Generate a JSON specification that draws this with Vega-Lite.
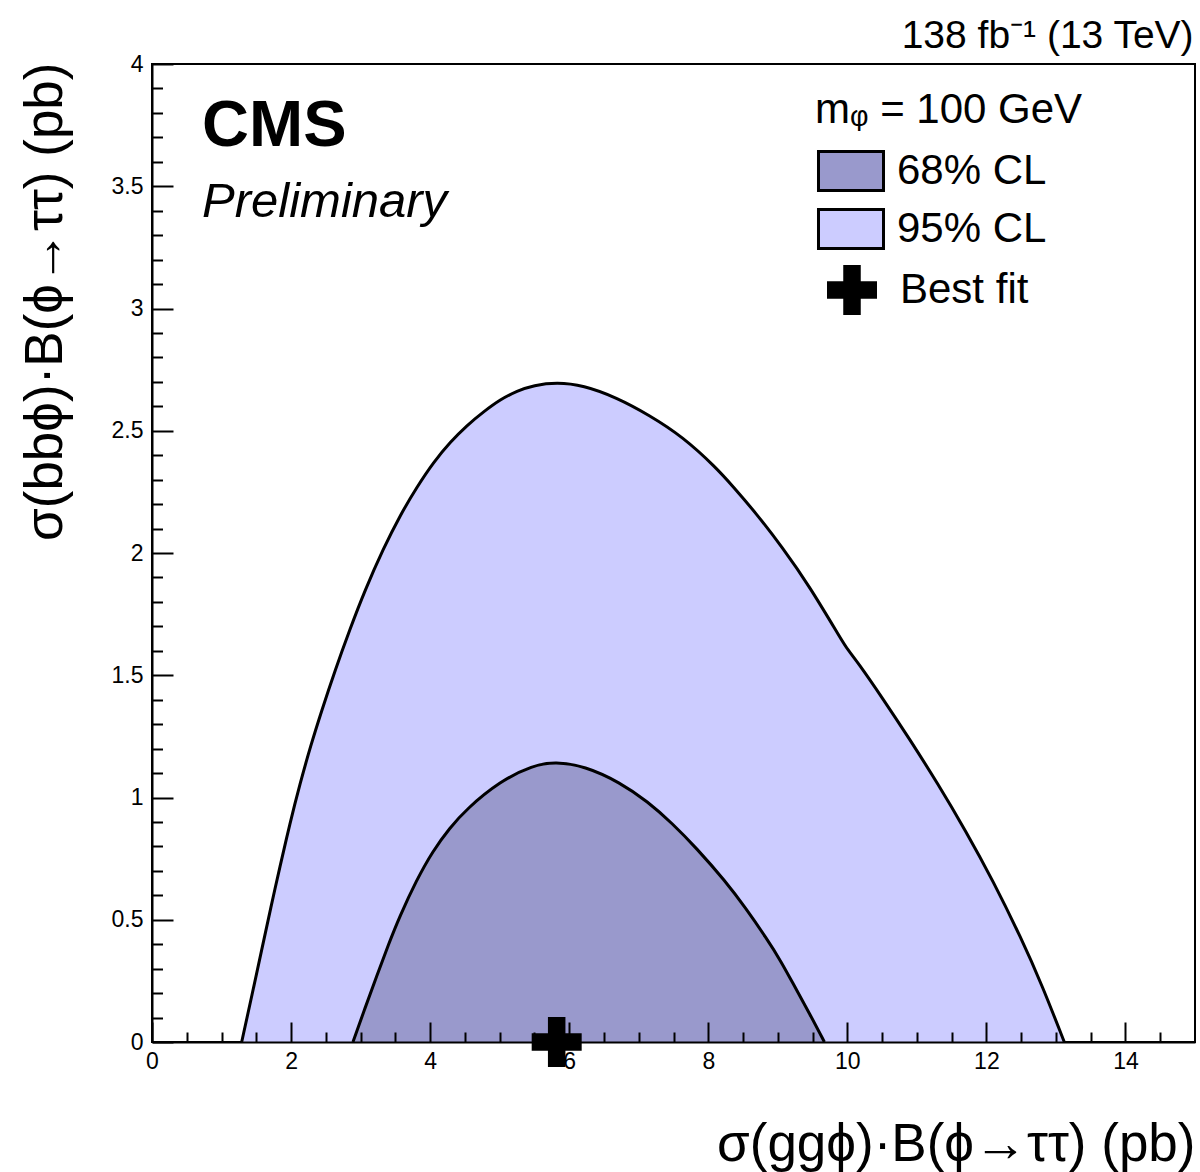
{
  "$schema": "https://vega.github.io/schema/vega-lite/v6.json",
  "width": 1043,
  "height": 978,
  "autosize": {"type": "none"},
  "padding": {"left": 152, "top": 64, "right": 5, "bottom": 130},
  "background": "white",
  "config": {
    "view": {"stroke": "black", "strokeWidth": 2},
    "font": "Liberation Sans",
    "axis": {"labelFont": "Liberation Sans", "titleFont": "Liberation Sans", "labelColor": "black", "titleColor": "black", "grid": false, "domainColor": "black", "tickColor": "black", "titleFontWeight": "normal", "labelFlush": false, "labelOverlap": false}
  },
  "datasets": {
    "contours": [
      {"cl": "95% CL", "x": 1.29, "y": 0},
      {"cl": "95% CL", "x": 1.44, "y": 0.195},
      {"cl": "95% CL", "x": 1.58, "y": 0.38},
      {"cl": "95% CL", "x": 1.71, "y": 0.552},
      {"cl": "95% CL", "x": 1.84, "y": 0.717},
      {"cl": "95% CL", "x": 1.98, "y": 0.89},
      {"cl": "95% CL", "x": 2.13, "y": 1.058},
      {"cl": "95% CL", "x": 2.28, "y": 1.21},
      {"cl": "95% CL", "x": 2.44, "y": 1.355},
      {"cl": "95% CL", "x": 2.63, "y": 1.518},
      {"cl": "95% CL", "x": 2.85, "y": 1.691},
      {"cl": "95% CL", "x": 3.06, "y": 1.846},
      {"cl": "95% CL", "x": 3.33, "y": 2.02},
      {"cl": "95% CL", "x": 3.57, "y": 2.155},
      {"cl": "95% CL", "x": 3.81, "y": 2.27},
      {"cl": "95% CL", "x": 4.05, "y": 2.372},
      {"cl": "95% CL", "x": 4.29, "y": 2.454},
      {"cl": "95% CL", "x": 4.53, "y": 2.522},
      {"cl": "95% CL", "x": 4.77, "y": 2.578},
      {"cl": "95% CL", "x": 5.01, "y": 2.628},
      {"cl": "95% CL", "x": 5.25, "y": 2.663},
      {"cl": "95% CL", "x": 5.49, "y": 2.686},
      {"cl": "95% CL", "x": 5.82, "y": 2.698},
      {"cl": "95% CL", "x": 6.2, "y": 2.686},
      {"cl": "95% CL", "x": 6.68, "y": 2.636},
      {"cl": "95% CL", "x": 7.15, "y": 2.564},
      {"cl": "95% CL", "x": 7.63, "y": 2.476},
      {"cl": "95% CL", "x": 8.11, "y": 2.35},
      {"cl": "95% CL", "x": 8.35, "y": 2.274},
      {"cl": "95% CL", "x": 8.69, "y": 2.162},
      {"cl": "95% CL", "x": 9.07, "y": 2.021},
      {"cl": "95% CL", "x": 9.45, "y": 1.867},
      {"cl": "95% CL", "x": 9.93, "y": 1.638},
      {"cl": "95% CL", "x": 10.0, "y": 1.607},
      {"cl": "95% CL", "x": 10.145, "y": 1.555},
      {"cl": "95% CL", "x": 10.5, "y": 1.409},
      {"cl": "95% CL", "x": 10.9, "y": 1.237},
      {"cl": "95% CL", "x": 11.3, "y": 1.057},
      {"cl": "95% CL", "x": 11.7, "y": 0.865},
      {"cl": "95% CL", "x": 12.1, "y": 0.657},
      {"cl": "95% CL", "x": 12.5, "y": 0.425},
      {"cl": "95% CL", "x": 12.8, "y": 0.233},
      {"cl": "95% CL", "x": 13.12, "y": 0},
      {"cl": "68% CL", "x": 2.89, "y": 0},
      {"cl": "68% CL", "x": 3.06, "y": 0.136},
      {"cl": "68% CL", "x": 3.23, "y": 0.269},
      {"cl": "68% CL", "x": 3.4, "y": 0.398},
      {"cl": "68% CL", "x": 3.56, "y": 0.512},
      {"cl": "68% CL", "x": 3.8, "y": 0.66},
      {"cl": "68% CL", "x": 4.04, "y": 0.782},
      {"cl": "68% CL", "x": 4.28, "y": 0.875},
      {"cl": "68% CL", "x": 4.52, "y": 0.952},
      {"cl": "68% CL", "x": 5.0, "y": 1.066},
      {"cl": "68% CL", "x": 5.48, "y": 1.132},
      {"cl": "68% CL", "x": 5.8, "y": 1.146},
      {"cl": "68% CL", "x": 6.22, "y": 1.129},
      {"cl": "68% CL", "x": 6.73, "y": 1.062},
      {"cl": "68% CL", "x": 7.13, "y": 0.983},
      {"cl": "68% CL", "x": 7.48, "y": 0.895},
      {"cl": "68% CL", "x": 7.83, "y": 0.793},
      {"cl": "68% CL", "x": 8.24, "y": 0.66},
      {"cl": "68% CL", "x": 8.54, "y": 0.547},
      {"cl": "68% CL", "x": 8.84, "y": 0.423},
      {"cl": "68% CL", "x": 9.04, "y": 0.333},
      {"cl": "68% CL", "x": 9.24, "y": 0.228},
      {"cl": "68% CL", "x": 9.46, "y": 0.115},
      {"cl": "68% CL", "x": 9.67, "y": 0}
    ],
    "bestfit": [{"item": "Best fit", "x": 5.82, "y": 0}]
  },
  "layer": [
    {
      "data": {"name": "contours"},
      "transform": [{"filter": "datum.cl === '95% CL'"}],
      "mark": {"type": "area", "interpolate": "basis", "opacity": 1},
      "encoding": {
        "x": {"field": "x", "type": "quantitative", "scale": {"domain": [0, 15], "nice": false, "zero": false},
          "axis": {"orient": "bottom", "values": [0, 2, 4, 6, 8, 10, 12, 14], "format": "~g", "ticks": false, "domain": false, "labelFontSize": 23, "labelPadding": 8, "title": "σ(ggϕ)·B(ϕ→ττ) (pb)", "titleFontSize": 53, "titleX": 1043, "titleY": 118, "titleAlign": "right", "titleBaseline": "alphabetic", "titleAngle": 0, "zindex": 0}},
        "y": {"field": "y", "type": "quantitative", "stack": null, "scale": {"domain": [0, 4], "nice": false},
          "axis": {"orient": "left", "values": [0, 0.5, 1, 1.5, 2, 2.5, 3, 3.5, 4], "format": "~g", "ticks": false, "domain": false, "labelFontSize": 23, "labelPadding": 9, "title": "σ(bbϕ)·B(ϕ→ττ) (pb)", "titleFontSize": 53, "titleX": -91, "titleY": -2, "titleAlign": "right", "titleAngle": -90, "titleBaseline": "alphabetic", "zindex": 0}},
        "fill": {"field": "cl", "type": "nominal", "scale": {"domain": ["68% CL", "95% CL"], "range": ["#9999cc", "#ccccff"]},
          "legend": {"orient": "none", "legendX": 663, "legendY": 26, "direction": "vertical", "padding": 0, "title": "mᵩ = 100 GeV", "titleFont": "Liberation Sans", "titleFontSize": 42, "titleFontWeight": "normal", "titleColor": "black", "titlePadding": 18, "titleLimit": 0, "labelFont": "Liberation Sans", "labelFontSize": 42, "labelColor": "black", "labelLimit": 0, "labelOffset": 25, "symbolType": "M-1.667,-1H1.667V1H-1.667Z", "symbolSize": 1521, "symbolStrokeColor": "black", "symbolStrokeWidth": 3, "symbolOffset": 15, "symbolOpacity": 1, "rowPadding": 6}}
      }
    },
    {
      "data": {"name": "contours"},
      "transform": [{"filter": "datum.cl === '68% CL'"}],
      "mark": {"type": "area", "interpolate": "basis", "opacity": 1},
      "encoding": {
        "x": {"field": "x", "type": "quantitative", "scale": {"domain": [0, 15], "nice": false, "zero": false},
          "axis": {"orient": "bottom", "values": [0, 2, 4, 6, 8, 10, 12, 14], "labels": false, "ticks": true, "tickSize": -20, "tickWidth": 2, "domain": true, "domainWidth": 2, "title": null, "zindex": 1}},
        "y": {"field": "y", "type": "quantitative", "stack": null, "scale": {"domain": [0, 4], "nice": false},
          "axis": {"orient": "left", "values": [0, 0.5, 1, 1.5, 2, 2.5, 3, 3.5, 4], "labels": false, "ticks": true, "tickSize": -21, "tickWidth": 2, "domain": true, "domainWidth": 2, "title": null, "zindex": 1}},
        "fill": {"field": "cl", "type": "nominal", "scale": {"domain": ["68% CL", "95% CL"], "range": ["#9999cc", "#ccccff"]}}
      }
    },
    {
      "data": {"name": "contours"},
      "mark": {"type": "line", "interpolate": "basis", "color": "black", "strokeWidth": 3},
      "encoding": {
        "x": {"field": "x", "type": "quantitative", "scale": {"domain": [0, 15], "nice": false, "zero": false},
          "axis": {"orient": "bottom", "values": [0.5, 1, 1.5, 2.5, 3, 3.5, 4.5, 5, 5.5, 6.5, 7, 7.5, 8.5, 9, 9.5, 10.5, 11, 11.5, 12.5, 13, 13.5, 14.5], "labels": false, "ticks": true, "tickSize": -10, "tickWidth": 2, "domain": false, "title": null, "zindex": 1}},
        "y": {"field": "y", "type": "quantitative", "scale": {"domain": [0, 4], "nice": false},
          "axis": {"orient": "left", "values": [0.1, 0.2, 0.3, 0.4, 0.6, 0.7, 0.8, 0.9, 1.1, 1.2, 1.3, 1.4, 1.6, 1.7, 1.8, 1.9, 2.1, 2.2, 2.3, 2.4, 2.6, 2.7, 2.8, 2.9, 3.1, 3.2, 3.3, 3.4, 3.6, 3.7, 3.8, 3.9], "labels": false, "ticks": true, "tickSize": -10.5, "tickWidth": 2, "domain": false, "title": null, "zindex": 1}},
        "detail": {"field": "cl", "type": "nominal"}
      }
    },
    {
      "data": {"name": "bestfit"},
      "mark": {"type": "point", "filled": true, "color": "black", "opacity": 1, "size": 2500},
      "encoding": {
        "x": {"field": "x", "type": "quantitative", "axis": null},
        "y": {"field": "y", "type": "quantitative", "axis": null},
        "shape": {"field": "item", "type": "nominal", "scale": {"domain": ["Best fit"], "range": ["M-1,-0.35H-0.35V-1H0.35V-0.35H1V0.35H0.35V1H-0.35V0.35H-1Z"]},
          "legend": {"orient": "none", "legendX": 675, "legendY": 201, "padding": 0, "title": null, "labelFont": "Liberation Sans", "labelFontSize": 42, "labelColor": "black", "labelLimit": 0, "labelOffset": 23, "symbolSize": 2500, "symbolStrokeWidth": 0, "symbolFillColor": "black", "symbolOpacity": 1}}
      }
    },
    {
      "data": {"values": [{}]},
      "mark": {"type": "text", "text": "CMS", "font": "Liberation Sans", "fontSize": 65, "fontWeight": "bold", "align": "left", "baseline": "alphabetic", "color": "black"},
      "encoding": {
        "x": {"datum": 0.72, "type": "quantitative", "axis": null},
        "y": {"datum": 3.665, "type": "quantitative", "axis": null}
      }
    },
    {
      "data": {"values": [{}]},
      "mark": {"type": "text", "text": "Preliminary", "font": "Liberation Sans", "fontSize": 49, "fontStyle": "italic", "align": "left", "baseline": "alphabetic", "color": "black"},
      "encoding": {
        "x": {"datum": 0.72, "type": "quantitative", "axis": null},
        "y": {"datum": 3.375, "type": "quantitative", "axis": null}
      }
    },
    {
      "data": {"values": [{}]},
      "mark": {"type": "text", "text": "138 fb⁻¹ (13 TeV)", "font": "Liberation Sans", "fontSize": 39, "align": "right", "baseline": "alphabetic", "color": "black"},
      "encoding": {
        "x": {"datum": 14.98, "type": "quantitative", "axis": null},
        "y": {"datum": 4.064, "type": "quantitative", "axis": null}
      }
    }
  ],
  "resolve": {"axis": {"x": "independent", "y": "independent"}}
}
